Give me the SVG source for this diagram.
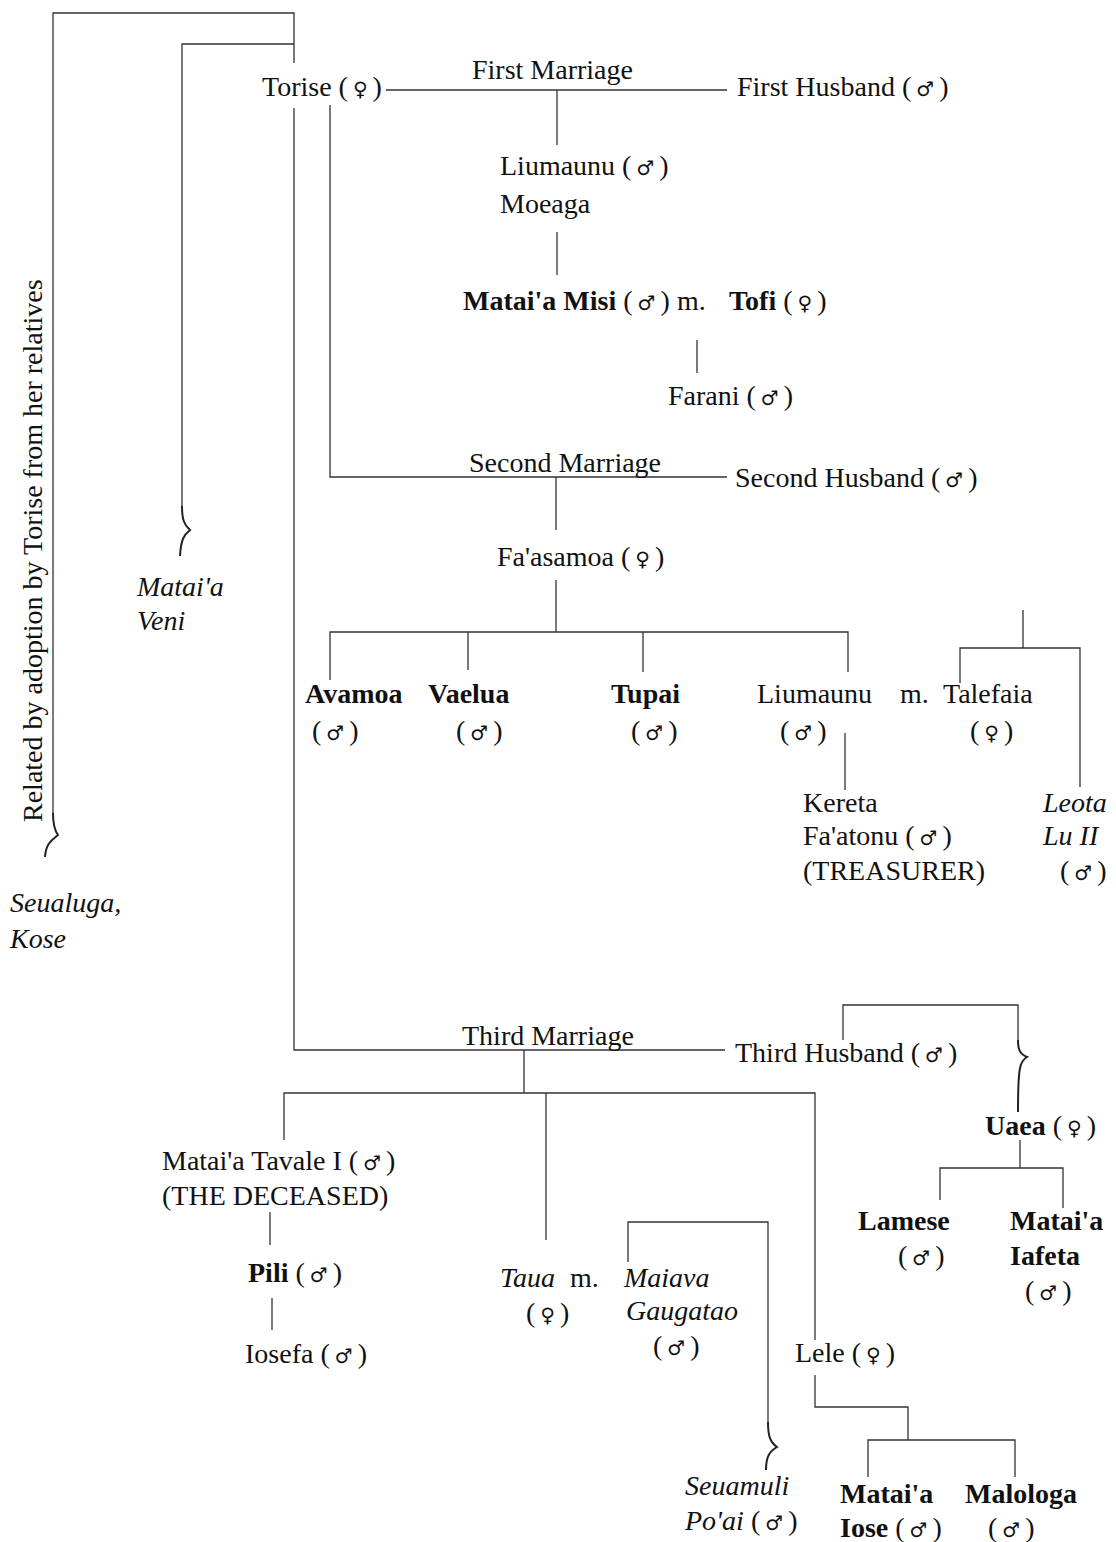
<svg xmlns="http://www.w3.org/2000/svg" width="1116" height="1542" viewBox="0 0 1116 1542">
<style>
text{font-family:"Liberation Serif","Times New Roman",serif;font-size:28px;fill:#111}
.b{font-weight:bold}
.i{font-style:italic}
.sym{font-family:"DejaVu Sans",sans-serif;font-size:20px}
#connectors path{fill:none;stroke:#333;stroke-width:1.3}
#connectors path.br{stroke-width:2;stroke:#222}
</style>
<rect width="1116" height="1542" fill="#fff"/>
<g id="connectors">
<path d="M53 813 V13 H294 V63"/>
<path class="br" d="M53 813 C53 826 55 831 58 835 C52 840 46 843 45 857"/>
<path d="M182 506 V44 H294"/>
<path class="br" d="M182 506 C182 519 184 525 190 530 C184 535 181 539 180 556"/>
<path d="M294 108 V1050 H725"/>
<path d="M330 105 V477 H727"/>
<path d="M386 90 H727"/>
<path d="M557 90 V145"/>
<path d="M557 232 V275"/>
<path d="M697 340 V373"/>
<path d="M556 477 V530"/>
<path d="M556 580 V632"/>
<path d="M330 680 V632 H848 V672"/>
<path d="M468 632 V670"/>
<path d="M643 632 V672"/>
<path d="M845 733 V790"/>
<path d="M1023 610 V648"/>
<path d="M960 683 V648 H1080 V787"/>
<path d="M524 1050 V1093"/>
<path d="M284 1140 V1093 H815 V1340"/>
<path d="M546 1093 V1240"/>
<path d="M270 1212 V1245"/>
<path d="M272 1298 V1330"/>
<path d="M628 1262 V1222 H768 V1422"/>
<path class="br" d="M768 1422 C768 1436 770 1442 777 1447 C770 1451 766 1456 766 1470"/>
<path d="M815 1375 V1407 H908 V1440"/>
<path d="M868 1477 V1440 H1015 V1477"/>
<path d="M843 1040 V1005 H1018 V1040"/>
<path class="br" d="M1018 1040 C1018 1050 1020 1054 1027 1057 C1020 1061 1018 1066 1018 1112"/>
<path d="M1020 1140 V1168"/>
<path d="M940 1200 V1168 H1063 V1208"/>
</g>
<g id="adoption-note"><text transform="translate(42 822) rotate(-90)">Related by adoption by Torise from her relatives</text></g>
<g id="seualuga"><text class="i" x="10" y="912">Seualuga,</text><text class="i" x="10" y="948">Kose</text></g>
<g id="matai-a-veni"><text class="i" x="137" y="596">Matai'a</text><text class="i" x="137" y="630">Veni</text></g>
<g id="torise"><text x="262" y="96">Torise (<tspan class="sym" dx="5">♀</tspan><tspan dx="5">)</tspan></text></g>
<g id="first-marriage"><text x="472" y="79">First Marriage</text></g>
<g id="first-husband"><text x="737" y="96">First Husband (<tspan class="sym" dx="5">♂</tspan><tspan dx="5">)</tspan></text></g>
<g id="liumaunu-moeaga"><text x="500" y="175">Liumaunu (<tspan class="sym" dx="5">♂</tspan><tspan dx="5">)</tspan></text><text x="500" y="213">Moeaga</text></g>
<g id="matai-a-misi"><text x="463" y="310"><tspan class="b">Matai'a Misi</tspan> (<tspan class="sym" dx="5">♂</tspan><tspan dx="5">)</tspan><tspan x="677">m.</tspan><tspan class="b" x="729">Tofi</tspan> (<tspan class="sym" dx="5">♀</tspan><tspan dx="5">)</tspan></text></g>
<g id="farani"><text x="668" y="405">Farani (<tspan class="sym" dx="5">♂</tspan><tspan dx="5">)</tspan></text></g>
<g id="second-marriage"><text x="469" y="472">Second Marriage</text></g>
<g id="second-husband"><text x="735" y="487">Second Husband (<tspan class="sym" dx="5">♂</tspan><tspan dx="5">)</tspan></text></g>
<g id="fa-asamoa"><text x="497" y="566">Fa'asamoa (<tspan class="sym" dx="5">♀</tspan><tspan dx="5">)</tspan></text></g>
<g id="avamoa"><text class="b" x="305" y="703">Avamoa</text><text x="312" y="740">(<tspan class="sym" dx="5">♂</tspan><tspan dx="5">)</tspan></text></g>
<g id="vaelua"><text class="b" x="428" y="703">Vaelua</text><text x="456" y="740">(<tspan class="sym" dx="5">♂</tspan><tspan dx="5">)</tspan></text></g>
<g id="tupai"><text class="b" x="611" y="703">Tupai</text><text x="631" y="740">(<tspan class="sym" dx="5">♂</tspan><tspan dx="5">)</tspan></text></g>
<g id="liumaunu-talefaia"><text x="757" y="703">Liumaunu<tspan x="900">m.</tspan><tspan x="943">Talefaia</tspan></text><text x="780" y="740">(<tspan class="sym" dx="5">♂</tspan><tspan dx="5">)</tspan></text><text x="970" y="740">(<tspan class="sym" dx="5">♀</tspan><tspan dx="5">)</tspan></text></g>
<g id="kereta"><text x="803" y="812">Kereta</text><text x="803" y="845">Fa'atonu (<tspan class="sym" dx="5">♂</tspan><tspan dx="5">)</tspan></text><text x="803" y="880">(TREASURER)</text></g>
<g id="leota"><text class="i" x="1043" y="812">Leota</text><text class="i" x="1043" y="845">Lu II</text><text x="1060" y="880">(<tspan class="sym" dx="5">♂</tspan><tspan dx="5">)</tspan></text></g>
<g id="third-marriage"><text x="462" y="1045">Third Marriage</text></g>
<g id="third-husband"><text x="735" y="1062">Third Husband (<tspan class="sym" dx="5">♂</tspan><tspan dx="5">)</tspan></text></g>
<g id="uaea"><text x="985" y="1135"><tspan class="b">Uaea</tspan> (<tspan class="sym" dx="5">♀</tspan><tspan dx="5">)</tspan></text></g>
<g id="lamese"><text class="b" x="858" y="1230">Lamese</text><text x="898" y="1265">(<tspan class="sym" dx="5">♂</tspan><tspan dx="5">)</tspan></text></g>
<g id="matai-a-iafeta"><text class="b" x="1010" y="1230">Matai'a</text><text class="b" x="1010" y="1265">Iafeta</text><text x="1025" y="1300">(<tspan class="sym" dx="5">♂</tspan><tspan dx="5">)</tspan></text></g>
<g id="matai-a-tavale"><text x="162" y="1170">Matai'a Tavale I (<tspan class="sym" dx="5">♂</tspan><tspan dx="5">)</tspan></text><text x="162" y="1205">(THE DECEASED)</text></g>
<g id="pili"><text x="248" y="1282"><tspan class="b">Pili</tspan> (<tspan class="sym" dx="5">♂</tspan><tspan dx="5">)</tspan></text></g>
<g id="iosefa"><text x="245" y="1363">Iosefa (<tspan class="sym" dx="5">♂</tspan><tspan dx="5">)</tspan></text></g>
<g id="taua-maiava"><text x="500" y="1287"><tspan class="i">Taua</tspan><tspan x="570">m.</tspan><tspan class="i" x="624">Maiava</tspan></text><text x="526" y="1322">(<tspan class="sym" dx="5">♀</tspan><tspan dx="5">)</tspan></text><text class="i" x="626" y="1320">Gaugatao</text><text x="653" y="1355">(<tspan class="sym" dx="5">♂</tspan><tspan dx="5">)</tspan></text></g>
<g id="seuamuli"><text class="i" x="685" y="1495">Seuamuli</text><text x="685" y="1530"><tspan class="i">Po'ai</tspan> (<tspan class="sym" dx="5">♂</tspan><tspan dx="5">)</tspan></text></g>
<g id="lele"><text x="795" y="1362">Lele (<tspan class="sym" dx="5">♀</tspan><tspan dx="5">)</tspan></text></g>
<g id="matai-a-iose"><text class="b" x="840" y="1503">Matai'a</text><text x="840" y="1537"><tspan class="b">Iose</tspan> (<tspan class="sym" dx="5">♂</tspan><tspan dx="5">)</tspan></text></g>
<g id="malologa"><text class="b" x="965" y="1503">Malologa</text><text x="988" y="1537">(<tspan class="sym" dx="5">♂</tspan><tspan dx="5">)</tspan></text></g>
</svg>
